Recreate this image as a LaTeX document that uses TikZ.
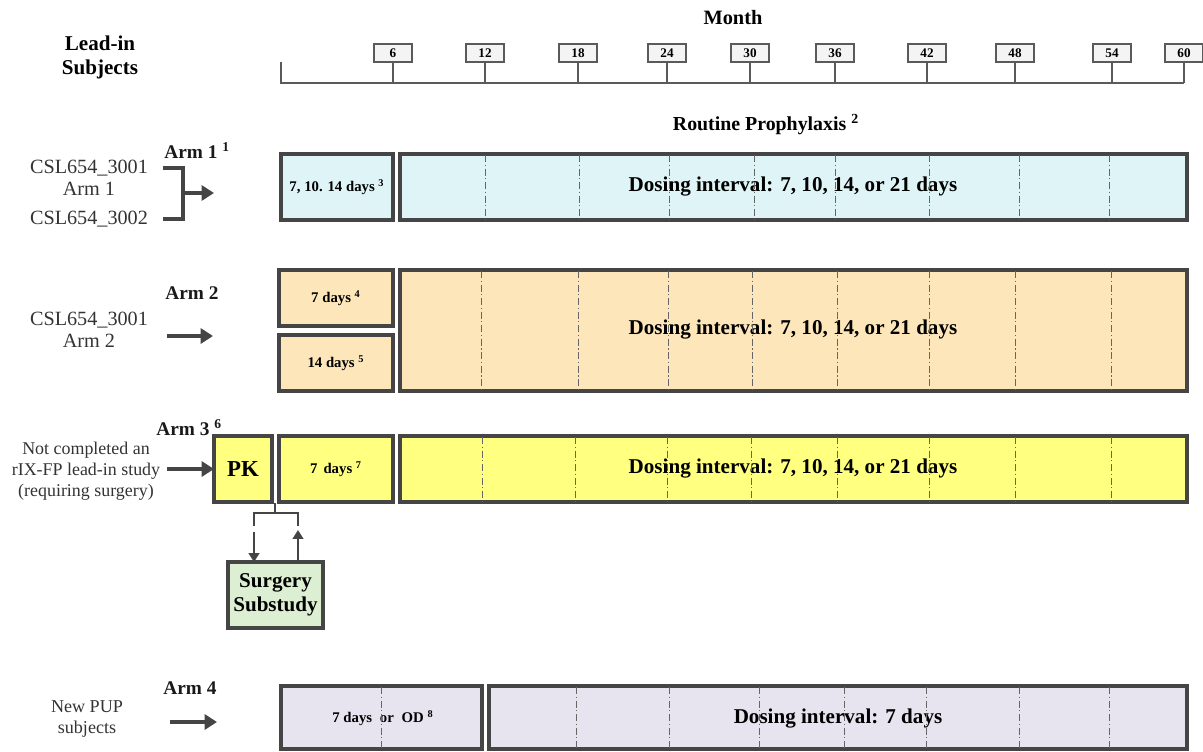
\documentclass[tikz,border=0pt]{standalone}
\usepackage{fontspec}
\setmainfont{Liberation Serif}
\usetikzlibrary{arrows.meta,calc}
\definecolor{edge}{HTML}{454545}
\definecolor{axisc}{HTML}{5A5A5A}
\definecolor{cA}{HTML}{DFF4F6}
\definecolor{cB}{HTML}{FDE6B9}
\definecolor{cC}{HTML}{FFFF80}
\definecolor{cD}{HTML}{DDEFD2}
\definecolor{cE}{HTML}{E7E4EF}
\definecolor{tickfill}{HTML}{F4F4F4}
\definecolor{lefttext}{HTML}{333333}
\begin{document}
\begin{tikzpicture}[x=0.02cm,y=-0.02cm,
  wh/.style 2 args={minimum width=#1*0.02cm, minimum height=#2*0.02cm},
  box/.style={draw=edge, line width=2pt, inner sep=0pt, outer sep=0pt, align=center},
  tickbox/.style={draw=axisc, fill=tickfill, line width=0.7pt, inner sep=0pt, wh={38}{18},
    font=\fontsize{7.5}{9}\selectfont\bfseries},
  axisline/.style={draw=axisc, line width=1.2pt},
  dd/.style={draw=black!60, line width=0.5pt, dash pattern=on 4pt off 1.5pt on 0.7pt off 1.5pt},
  bigtxt/.style={font=\fontsize{12}{14}\selectfont\bfseries, inner sep=0pt},
  smalltxt/.style={font=\fontsize{8.4}{10}\selectfont\bfseries, inner sep=0pt},
  armlbl/.style={font=\fontsize{11}{13}\selectfont\bfseries, inner sep=0pt, text=black!90},
  lefttxt/.style={font=\fontsize{11.5}{12.5}\selectfont, text=lefttext, align=center, inner sep=0pt},
  arr/.style={draw=edge, line width=2pt, -{Triangle[length=7pt,width=8.5pt]}},
  thinarr/.style={draw=edge, line width=1.1pt, -{Triangle[length=5pt,width=6pt]}},
  brk/.style={draw=edge, line width=2pt},
  brk2/.style={draw=edge, line width=1.2pt}
]
\useasboundingbox (0,0) rectangle (1203,751);

% ---- header ----
\node[font=\fontsize{11.6}{13}\selectfont\bfseries, inner sep=0pt] (month) at (733,18) {Month};
\node[font=\fontsize{12}{13.6}\selectfont\bfseries, align=center, inner sep=0pt] (leadin) at (100,57) {Lead-in\\Subjects};

\draw[axisline] (281,62) -- (281,83) -- (1184,83);
\foreach \x/\l in {393/6,485/12,578/18,667/24,750/30,835/36,927/42,1015/48,1112/54,1184/60} {
  \node[tickbox] (t\l) at (\x,53) {\l};
  \draw[axisline] (t\l.south) -- (\x,83);
}

\node[font=\fontsize{11.3}{13}\selectfont\bfseries, inner sep=0pt] (rp) at (766,125) {Routine Prophylaxis \textsuperscript{2}};

% ---- Arm 1 ----
\node[armlbl, anchor=west] (arm1) at (164,151) {Arm 1 \textsuperscript{1}};
\node[lefttxt] (l1a) at (89,178) {CSL654\_3001\\Arm 1};
\node[lefttxt] (l1b) at (89,219) {CSL654\_3002};
\draw[brk] (163,168) -- (183,168) -- (183,219) -- (163,219);
\coordinate (a1from) at (183,193);
\coordinate (a1to) at (214,193);
\draw[arr] (a1from) -- (a1to);

\node[box, fill=cA, wh={112}{66}, smalltxt] (a1s) at (337,187) {7, 10. 14 days \textsuperscript{3}};
\node[box, fill=cA, wh={787}{66}] (a1b) at (793.5,187) {};
\node[bigtxt] (a1t) at (793,187) {Dosing interval: 7, 10, 14, or 21 days};
\foreach \x in {485,579,669,754,835,929,1019,1109} \draw[dd] (\x,155) -- (\x,219);

% ---- Arm 2 ----
\node[armlbl] (arm2) at (192,293) {Arm 2};
\node[lefttxt] (l2) at (89,330) {CSL654\_3001\\Arm 2};
\coordinate (a2from) at (167,336);
\coordinate (a2to) at (213,336);
\draw[arr] (a2from) -- (a2to);

\node[box, fill=cB, wh={114}{56}, smalltxt] (a2s1) at (336,298) {7 days \textsuperscript{4}};
\node[box, fill=cB, wh={114}{56}, smalltxt] (a2s2) at (336,363) {14 days \textsuperscript{5}};
\node[box, fill=cB, wh={787}{121}] (a2b) at (793.5,330.5) {};
\node[bigtxt] (a2t) at (793,330) {Dosing interval: 7, 10, 14, or 21 days};
\foreach \x in {481,578,668,752,837,929,1015,1111} \draw[dd] (\x,271) -- (\x,390);

% ---- Arm 3 ----
\node[armlbl, anchor=west] (arm3) at (156,428) {Arm 3 \textsuperscript{6}};
\node[lefttxt, font=\fontsize{10.2}{12}\selectfont] (l3) at (86,471) {Not completed an\\rIX-FP lead-in study\\(requiring surgery)};
\node[box, fill=cC, wh={58}{66}, font=\fontsize{13}{15}\selectfont\bfseries] (pk) at (243,469) {PK};
\node[box, fill=cC, wh={114}{66}, smalltxt] (a3s) at (336,469) {7\, days \textsuperscript{7}};
\node[box, fill=cC, wh={787}{66}] (a3b) at (793.5,469) {};
\node[bigtxt] (a3t) at (793,469) {Dosing interval: 7, 10, 14, or 21 days};
\foreach \x in {482,575,667,751,837,929,1015,1111} \draw[dd] (\x,437) -- (\x,501);
\draw[arr] ($(pk.west)+(-47,0)$) -- (pk.west);

\node[box, fill=cD, wh={95}{66}, font=\fontsize{12}{13.6}\selectfont\bfseries] (surg) at (275.5,595) {Surgery\\Substudy};
\coordinate (stem) at (275,503);
\draw[brk2] (stem) -- (275,513);
\draw[brk2] (254,526) -- (254,513) -- (298,513) -- (298,526);
\draw[thinarr] (254,532) -- (surg.north -| 254,0);
\draw[thinarr] (surg.north -| 298,0) -- (298,530);

% ---- Arm 4 ----
\node[armlbl] (arm4) at (190,688) {Arm 4};
\node[lefttxt, font=\fontsize{10.3}{12.5}\selectfont] (l4) at (87,719) {New PUP\\subjects};
\coordinate (a4from) at (170,722);
\coordinate (a4to) at (217,722);
\draw[arr] (a4from) -- (a4to);

\node[box, fill=cE, wh={201}{63}] (a4s) at (381.5,717.5) {};
\node[smalltxt] (a4st) at (383,718) {7 days\; or\; OD \textsuperscript{8}};
\node[box, fill=cE, wh={698}{63}] (a4b) at (838,717.5) {};
\node[bigtxt] (a4t) at (838,718) {Dosing interval: 7 days};
\draw[dd] (381,687) -- (381,748);
\foreach \x in {576,669,759,844,926,1019,1109} \draw[dd] (\x,687) -- (\x,748);
\end{tikzpicture}
\end{document}
